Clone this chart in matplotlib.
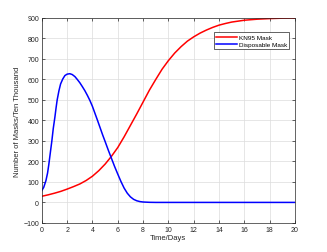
import matplotlib.pyplot as plt

plt.rcParams['font.family'] = ['Liberation Sans', 'DejaVu Sans']

# KN95 mask curve
x_kn95 = [0, 0.5, 1, 1.5, 2, 2.5, 3, 3.5, 4, 4.5, 5, 5.5, 6, 6.5, 7, 7.5, 8, 8.5,
          9, 9.5, 10, 10.5, 11, 11.5, 12, 12.5, 13, 13.5, 14, 14.5, 15, 16, 17, 18,
          19, 20]
y_kn95 = [30, 37, 45, 54, 65, 77, 90, 107, 128, 155, 187, 225, 268, 320, 376, 432,
          490, 548, 600, 650, 692, 729, 760, 787, 808, 826, 841, 854, 865, 873, 880,
          889, 894, 897, 899, 900]

# disposable mask curve
x_disp = [0, 0.15, 0.32, 0.45, 0.55, 0.67, 0.79, 0.9, 1.03, 1.12, 1.21, 1.35, 1.48,
          1.65, 1.82, 2.0, 2.21, 2.4, 2.61, 2.8, 3.0, 3.2, 3.4, 3.6, 3.8, 4.0, 4.2,
          4.4, 4.6, 4.8, 5.0, 5.25, 5.5, 5.75, 6.0, 6.25, 6.5, 6.75, 7.0, 7.25, 7.5,
          7.75, 8.0, 8.5, 9, 10, 20]
y_disp = [58, 74, 106, 143, 185, 243, 300, 360, 416, 460, 500, 545, 578,
          602, 619, 626, 628, 624, 614, 600, 584, 565, 545, 522, 497, 468, 434,
          400, 365, 330, 297, 255, 215, 175, 138, 102, 70, 45, 27, 15, 8,
          4, 2, 0.5, 0, 0, 0]

fig = plt.figure(figsize=(3.27, 2.53), dpi=100)
ax = fig.add_axes([0.128, 0.115, 0.774, 0.81])

ax.plot(x_kn95, y_kn95, color='#ff0000', lw=1.1, label='KN95 Mask')
ax.plot(x_disp, y_disp, color='#0000ff', lw=1.1, label='Disposable Mask')

ax.set_xlim(0, 20)
ax.set_ylim(-100, 900)
ax.set_xticks(range(0, 21, 2))
ax.set_yticks(range(-100, 901, 100))
ax.grid(True, color='#dcdcdc', lw=0.5)
ax.tick_params(direction='in', length=2, width=0.5, labelsize=5, colors='#262626',
               top=True, right=True, pad=2)
for s in ax.spines.values():
    s.set_linewidth(0.5)
    s.set_color('#262626')

ax.set_xlabel('Time/Days', fontsize=5.5, color='#262626', labelpad=1)
ax.set_ylabel('Number of Masks/Ten Thousand', fontsize=5.5, color='#262626', labelpad=2)

leg = ax.legend(loc='upper right', fontsize=4.6, handlelength=3.3, fancybox=False,
                framealpha=1, edgecolor='#262626', borderpad=0.35, labelspacing=0.25,
                bbox_to_anchor=(0.99, 0.945), handletextpad=0.3)
leg.get_frame().set_linewidth(0.5)

fig.savefig('out.png', dpi=100)
